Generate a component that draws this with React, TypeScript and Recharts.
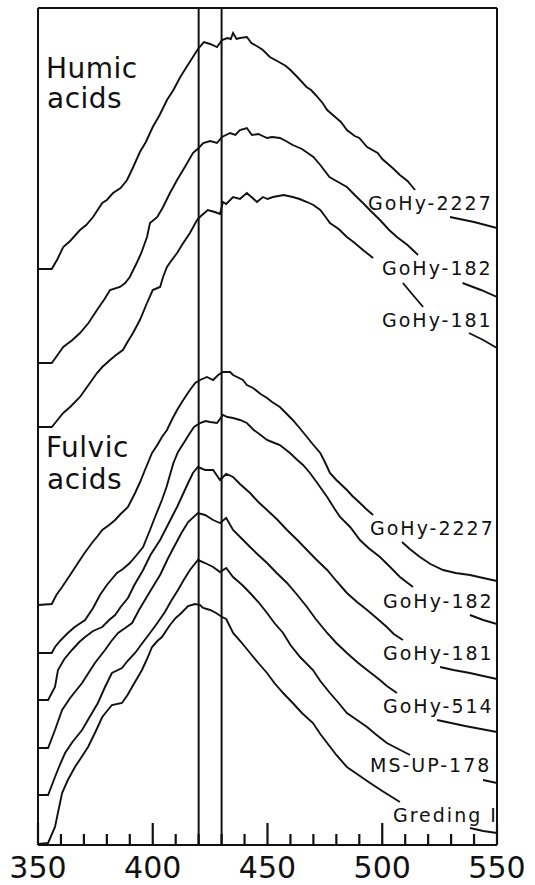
import React from 'react';
import { LineChart, Line, XAxis, YAxis, ReferenceLine } from 'recharts';

type Pt = [number, number | null];

// wavelength (nm), relative intensity (offset, arbitrary units)
const humicGoHy2227: Pt[] = [[350,576],[356,576],[358.5,586],[361,598],[364,604],[368.3,615],[371,620],[374,628],[378,642],[380,645],[382.7,652],[386,657],[388.8,665],[391.5,678],[394.4,693],[397,703],[400,718],[403,730],[406.2,745],[409,755],[412,768],[415,779],[417.5,788],[420,797],[422.3,803],[425,801],[428,798],[430.2,805],[432.5,807],[434,806],[435,812],[436.5,806],[438,807],[441,808],[443,802],[446,798],[448,795],[451,788],[455,783],[458,779],[460,775],[463,768],[467,758],[469,755],[471,750],[474,742],[476,735],[480,727],[482,723],[484.6,715],[488,709],[490,707],[493.4,698],[498,692],[500,686],[502,682],[505,676],[507.7,670],[511,664],[514.3,655],[520,null],[529.5,628],[540,623],[550,617]];
const humicGoHy182: Pt[] = [[350,482],[356,482],[358.5,490],[361,498],[365,505],[368.3,512],[372,522],[375.7,535],[379,546],[381.4,555],[385.7,558],[388,562],[390,568],[393,582],[395,592],[397.5,608],[398.8,622],[402,628],[404.5,638],[407.5,652],[410.6,665],[414,678],[417.5,692],[420,697],[422,702],[425,704],[428,702],[430.2,708],[433.7,712],[436,710],[438,715],[441,717],[443.2,710],[446,711],[449.8,707],[452,708],[455.4,707],[458,704],[461,700],[465,696],[470,688],[473,680],[477,668],[480,664],[484.6,658],[488,650],[491.6,642],[495,634],[499,625],[503,615],[506.4,608],[511,600],[515.6,590],[525,null],[535,562],[543,555],[550,548]];
const humicGoHy181: Pt[] = [[350,418],[356,418],[358.5,425],[361,432],[364,438],[368.3,448],[372,460],[375.7,472],[378,478],[381.4,485],[384,490],[387,495],[389,503],[391.4,512],[394.4,525],[397.5,542],[400,555],[403.2,558],[404.5,568],[406.2,578],[408,584],[410.6,592],[413,601],[416.2,612],[419.3,625],[421,629],[424,635],[427,633],[429.3,631],[430.6,643],[432,641],[435,648],[438,646],[441,652],[443,648],[445.4,643],[448,648],[450,646],[452.4,648],[457,650],[461,648],[464,646],[467.2,643],[470,640],[473,635],[475,629],[477.2,622],[481,616],[484.6,608],[488,602],[491.6,595],[496,587],[500,null],[509,562],[513,551],[517.8,538],[527,null],[537.8,512],[544,505],[550,497]];
const fulvicGoHy2227: Pt[] = [[350,240],[356,241],[358,250],[360.5,258],[364,270],[367.4,282],[370,291],[373.5,302],[376,309],[378,315],[381,320],[383.6,325],[386,331],[389.2,338],[392.3,352],[394.5,363],[396.6,375],[399.7,392],[402,400],[404,408],[406.2,415],[408.5,426],[410.6,435],[413,444],[416.2,455],[418.5,462],[420.6,465],[423.6,468],[426.3,465],[428.5,470],[430.6,473],[433.7,473],[435,470],[436.7,468],[439.3,465],[441,460],[443.7,457],[447,451],[449.8,447],[452,443],[455.4,438],[458,432],[461,425],[464,417],[467.2,408],[470,400],[473,392],[475,383],[477.2,372],[480,365],[484.6,355],[487,349],[490.3,342],[493,336],[496,330],[500,null],[508.6,303],[512,296],[516.4,288],[521,281],[526.5,275],[532,272],[538.2,270],[544,267],[550,264]];
const fulvicGoHy182: Pt[] = [[350,192],[356,192],[357.4,198],[360,205],[363,212],[366,218],[370.5,225],[374,237],[377,250],[380,260],[384.4,272],[387,276],[390,282],[393,290],[395.8,298],[398.8,315],[401,328],[404,345],[406,358],[407.5,370],[409,382],[411,393],[413.5,402],[416.2,412],[418,418],[420.6,422],[423,424],[425,423],[428,422],[430.6,430],[432.5,428],[435,427],[438,425],[441,422],[444,415],[447,410],[449.8,405],[452,403],[455.4,400],[459.8,392],[463,385],[465.5,380],[468.5,372],[472,361],[476,348],[479,337],[481.6,328],[486,318],[490.3,305],[494,297],[499,288],[503,279],[507.7,268],[513.4,258],[520,null],[538.2,230],[544,225],[550,221]];
const fulvicGoHy181: Pt[] = [[350,145],[354.4,145],[357.4,158],[358.7,175],[361.5,186],[364.8,195],[368,203],[370.5,208],[374,214],[378,218],[381,225],[383.6,230],[386,238],[389.2,247],[392,260],[395.8,275],[399,290],[403.2,305],[407,322],[410.6,338],[413,350],[415,360],[417.5,372],[419.7,378],[422.8,375],[426.3,375],[429.3,365],[432,371],[435,368],[438,361],[442.4,352],[446,343],[449.8,335],[454,326],[458.5,315],[463,305],[467.2,295],[471,286],[476,275],[480,264],[484.6,252],[489,243],[493.4,235],[497,228],[502,218],[505,211],[509,205],[515,null],[525.2,178],[531,175],[538.2,172],[544,169],[550,166]];
const fulvicGoHy514: Pt[] = [[350,97],[354.4,97],[357.4,115],[360.5,135],[364,147],[369.2,162],[372,172],[374.8,182],[379.2,195],[382,204],[384.9,212],[388,217],[391,222],[394,235],[396.6,245],[400,258],[403.2,270],[406.5,286],[409.7,300],[412.5,312],[415.4,323],[419.7,332],[422.8,330],[426.3,325],[429.3,322],[432,327],[435,315],[438.5,307],[442.4,298],[446,290],[449.8,282],[454,272],[458.5,262],[463,250],[467.2,238],[471,226],[476,212],[480,202],[484.6,192],[489,183],[493.4,175],[499,165],[502,159],[506.4,152],[515,null],[523.9,125],[530,122],[536.1,119],[543,116],[550,113]];
const fulvicMSUP178: Pt[] = [[350,50],[354.4,50],[357.4,68],[359.5,80],[361.8,92],[365,103],[369.2,115],[372.5,128],[376.1,142],[379,157],[382.2,172],[386.6,177],[389,184],[392.3,192],[395.5,202],[398.8,212],[402,222],[405.3,233],[408,244],[411,255],[413.5,265],[416.2,275],[419.7,285],[422.8,282],[426.3,278],[429.3,273],[432,277],[435,268],[439,260],[442.4,252],[446,243],[449.8,232],[453,222],[456.8,212],[460,200],[464.2,188],[469.8,175],[473,164],[477.2,152],[481,142],[484.6,132],[489,125],[493.4,118],[497,111],[502,102],[507,96],[512.1,90],[520,null],[543.9,65],[550,62]];
const fulvicGredingI: Pt[] = [[350,1],[354.4,2],[357.4,18],[360.5,52],[363,65],[366.1,78],[369,88],[371.8,98],[375,113],[378,128],[382.2,140],[386.6,142],[389,150],[391,158],[395.3,175],[397.5,186],[399.7,198],[402,204],[404,208],[407.5,220],[410,227],[412,231],[415.4,239],[418.4,241],[420.5,240],[422,237],[425,235],[427.6,232],[430.2,228],[432,226],[435,212],[438.5,203],[442.4,192],[446,182],[449.8,172],[453,162],[456.8,152],[461,142],[465,132],[469.8,122],[473,111],[476,102],[480,90],[484.6,78],[489,71],[494.7,62],[500,54],[507.7,43],[515,null],[538.2,17],[544,14],[550,12]];

const seriesList: Pt[][] = [humicGoHy2227, humicGoHy182, humicGoHy181, fulvicGoHy2227, fulvicGoHy182, fulvicGoHy181, fulvicGoHy514, fulvicMSUP178, fulvicGredingI];

const allTicks = [350, 360, 370, 380, 390, 400, 410, 420, 430, 440, 450, 460, 470, 480, 490, 500, 510, 520, 530, 540, 550];
const majorTicks = [350, 400, 450, 500, 550];
const minorTicks = [350, 360, 370, 380, 390, 410, 420, 430, 440, 460, 470, 480, 490, 510, 520, 530, 540, 550];
const markerLines = [420, 430];
const yTop = 837;

const toRows = (pts: Pt[]) => pts.map(([x, v]) => ({ x, v }));

const FONT = '"DejaVu Sans", Verdana, sans-serif';
const INK = '#111';

const isMajor = (v: number) => majorTicks.includes(v);

// bottom axis: inward tick mark from the axis line, plus labels for majors
const TickBottom = (props: any) => {
  const { x, y, payload } = props;
  const v = payload.value as number;
  const len = isMajor(v) ? 22 : 11;
  return (
    <g>
      <rect x={x - 1.1} y={y - len} width={2.2} height={len} fill={INK} />
      {isMajor(v) && (
        <text x={x} y={y + 33} textAnchor="middle" fontSize={30} fontFamily={FONT} fill={INK}>
          {v}
        </text>
      )}
    </g>
  );
};

export default function App() {
  const lbl = { fontFamily: FONT, fontSize: 19, fill: INK, letterSpacing: 2 } as any;
  const big = { fontFamily: FONT, fontSize: 28, fill: INK, letterSpacing: 0.5 } as any;
  return (
    <div style={{ position: 'absolute', left: 0, top: 0, width: 535, height: 885, background: '#fff' }}>
      <LineChart width={535} height={885} margin={{ top: 0, right: 38, left: 38, bottom: 0 }}>
        <XAxis xAxisId={0} orientation="bottom" type="number" dataKey="x" domain={[350, 550]} ticks={allTicks} height={40} axisLine={false} tickLine={false} tickSize={0} tickMargin={0} tick={<TickBottom />} interval={0} allowDataOverflow />
        <XAxis xAxisId="topMinor" orientation="top" type="number" dataKey="x" domain={[350, 550]} ticks={minorTicks} height={4} axisLine={false} tickLine={{ stroke: INK, strokeWidth: 2.2 }} tickSize={-16} tick={false} interval={0} allowDataOverflow />
        <XAxis xAxisId="topMajor" orientation="top" type="number" dataKey="x" domain={[350, 550]} ticks={majorTicks} height={4} axisLine={false} tickLine={{ stroke: INK, strokeWidth: 2.2 }} tickSize={-27} tick={false} interval={0} allowDataOverflow />
        <YAxis type="number" domain={[0, yTop]} hide allowDataOverflow />
        {markerLines.map((m) => (
          <ReferenceLine key={'m' + m} x={m} stroke={INK} strokeWidth={2} />
        ))}
        <ReferenceLine x={350} stroke={INK} strokeWidth={2} />
        <ReferenceLine x={550} stroke={INK} strokeWidth={2} />
        <ReferenceLine y={0} stroke={INK} strokeWidth={2} />
        <ReferenceLine y={yTop} stroke={INK} strokeWidth={2} />
        {seriesList.map((s, i) => (
          <Line key={i} data={toRows(s)} dataKey="v" type="linear" dot={false} activeDot={false} stroke={INK} strokeWidth={1.9} connectNulls={false} isAnimationActive={false} />
        ))}
      </LineChart>
      <svg width={535} height={885} style={{ position: 'absolute', left: 0, top: 0, pointerEvents: 'none' }}>
        <text x={46} y={78} {...big}>Humic</text>
        <text x={47} y={108} {...big}>acids</text>
        <text x={46} y={457} {...big}>Fulvic</text>
        <text x={47} y={489} {...big}>acids</text>
        <text x={368} y={210} {...lbl}>GoHy-2227</text>
        <text x={382} y={275} {...lbl}>GoHy-182</text>
        <text x={382} y={327} {...lbl}>GoHy-181</text>
        <text x={370} y={535} {...lbl}>GoHy-2227</text>
        <text x={383} y={608} {...lbl}>GoHy-182</text>
        <text x={383} y={660} {...lbl}>GoHy-181</text>
        <text x={383} y={713} {...lbl}>GoHy-514</text>
        <text x={370} y={772} {...lbl}>MS-UP-178</text>
        <text x={393} y={822} {...lbl}>Greding I</text>
      </svg>
    </div>
  );
}
